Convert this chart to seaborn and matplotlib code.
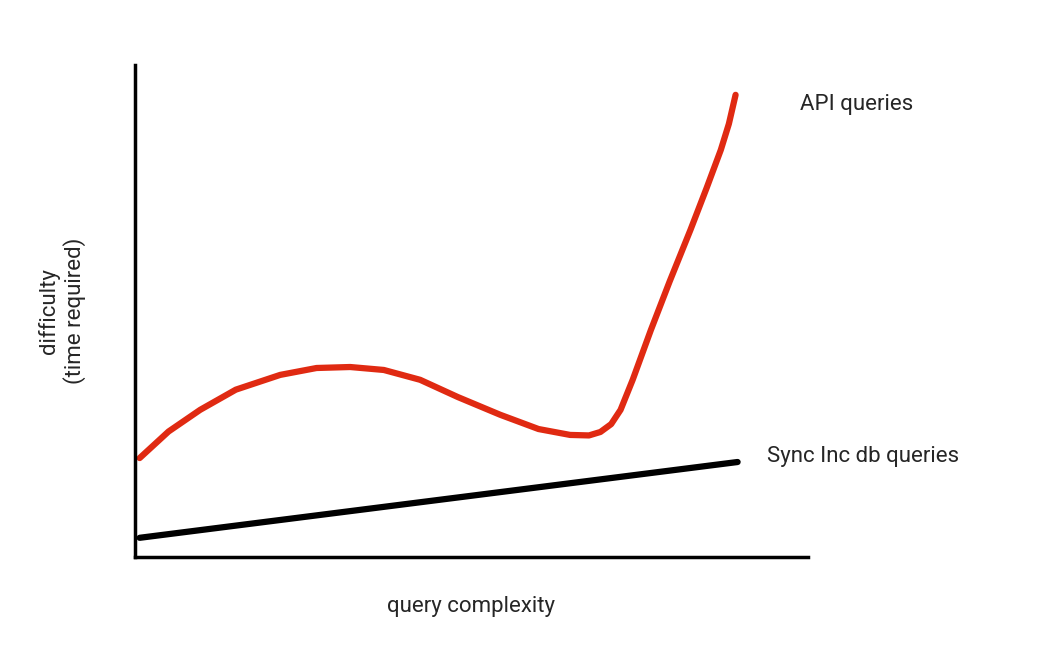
import matplotlib
matplotlib.use("Agg")
import matplotlib.pyplot as plt
import seaborn as sns
import pandas as pd

api_x = [0.7, 5, 9.7, 15, 21.6, 27, 32, 37, 42.4, 48, 54.3, 60, 64.7, 67.5, 69.2, 70.8, 72.2, 74, 76.7, 79.5, 82.6, 85, 87.1, 88.3, 89.3]
api_y = [20.1, 25.5, 29.9, 34, 37, 38.4, 38.6, 38.0, 36, 32.5, 28.9, 26.0, 24.8, 24.7, 25.4, 27, 29.9, 36, 46.1, 56, 66.5, 75, 82.7, 88, 93.9]
sync_x = [0.7, 89.6]
sync_y = [3.9, 19.3]

sns.set_style("white")
plt.rcParams['font.family'] = ['Roboto', 'DejaVu Sans']

fig = plt.figure(figsize=(10.38, 6.58), dpi=100)
ax = fig.add_axes([0.130, 0.1535, 0.648, 0.748])
sns.lineplot(x=api_x, y=api_y, ax=ax, color="#e02a12", linewidth=4.5, sort=False)
sns.lineplot(x=sync_x, y=sync_y, ax=ax, color="black", linewidth=4.5)
ax.set_xlim(0, 100)
ax.set_ylim(0, 100)
ax.set_xticks([]); ax.set_yticks([])
for s in ["top", "right"]:
    ax.spines[s].set_visible(False)
for s in ["left", "bottom"]:
    ax.spines[s].set_color("black"); ax.spines[s].set_linewidth(2.5)
ax.set_xlabel("query complexity", fontsize=16, labelpad=28)
ax.set_ylabel("difficulty\n(time required)", fontsize=16, labelpad=35)
ax.text(827/1038*0+98.9, 92, "API queries", fontsize=16, va="center", ha="left", clip_on=False)
ax.text(94, 20.5, "Sync Inc db queries", fontsize=16, va="center", ha="left", clip_on=False)
fig.savefig("out.png", dpi=100, facecolor="white")
